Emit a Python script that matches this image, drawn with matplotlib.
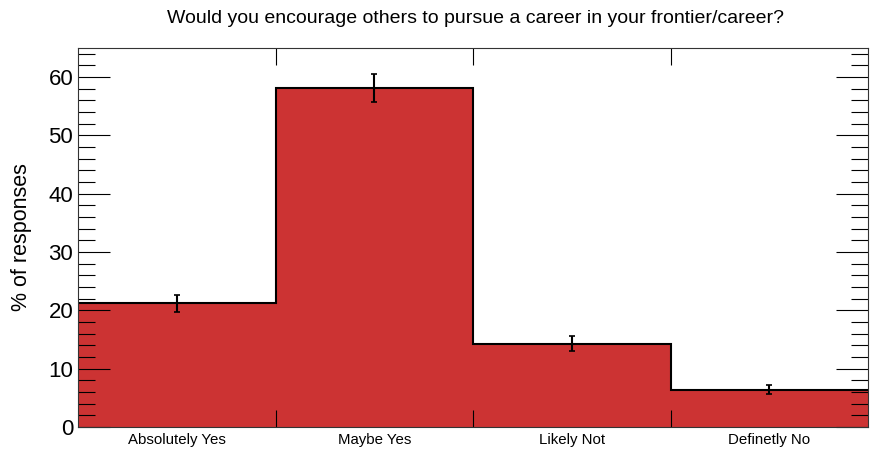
import matplotlib.pyplot as plt
import numpy as np
from matplotlib.ticker import MultipleLocator, FixedLocator

categories = ['Absolutely Yes', 'Maybe Yes', 'Likely Not', 'Definetly No']
percent = [21.2, 58.2, 14.3, 6.4]
errors = [1.5, 2.4, 1.3, 0.8]

plt.rcParams['font.family'] = ['Liberation Sans', 'DejaVu Sans']

fig = plt.figure(figsize=(8.73, 4.51), dpi=100)
ax = fig.add_axes([78 / 873, 24 / 451, 790 / 873, 379 / 451])

red = '#CC3333'
edges = np.arange(len(categories) + 1)
centers = edges[:-1] + 0.5

ax.bar(centers, percent, width=1.0, color=red, linewidth=0)
ax.stairs(percent, edges, color='black', linewidth=1.5, baseline=None)
ax.errorbar(centers, percent, yerr=errors, fmt='none', ecolor='black',
            elinewidth=1.5, capsize=2, capthick=1.2)

ax.set_xlim(0, len(categories))
ax.set_ylim(0, 65)

# ticks: edges on x, labels at bin centres
ax.xaxis.set_major_locator(FixedLocator(edges[1:-1]))
ax.xaxis.set_minor_locator(FixedLocator(centers))
ax.set_xticklabels([], minor=False)
ax.set_xticklabels(categories, minor=True, fontsize=10.8)
ax.tick_params(axis='x', which='major', direction='in', length=12, top=True, bottom=True, width=0.8)
ax.tick_params(axis='x', which='minor', length=0, pad=4)

ax.yaxis.set_major_locator(MultipleLocator(10))
ax.yaxis.set_minor_locator(MultipleLocator(2))
ax.tick_params(axis='y', which='major', direction='in', length=23, left=True, right=True, labelsize=16, width=0.8)
ax.tick_params(axis='y', which='minor', direction='in', length=12, left=True, right=True, width=0.8)

for s in ax.spines.values():
    s.set_linewidth(0.8)
    s.set_color('#333333')

ax.set_ylabel('% of responses', fontsize=15.5)
ax.yaxis.set_label_coords(-0.058, 0.5)
fig.text(0.545, 0.96, 'Would you encourage others to pursue a career in your frontier/career?',
         ha='center', va='center', fontsize=14)

plt.savefig('out.png', dpi=100)
